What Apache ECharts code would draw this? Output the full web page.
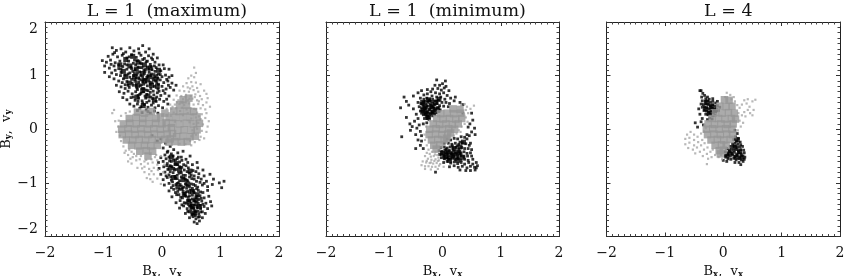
<!DOCTYPE html>
<html><head><meta charset="utf-8">
<style>html,body{margin:0;padding:0;background:#fff}#c{width:844px;height:276px}</style>
<script src="https://cdn.jsdelivr.net/npm/echarts@6/dist/echarts.min.js"></script>
</head><body><div id="c"></div>
<script>
const titles = ['L = 1  (maximum)', 'L = 1  (minimum)', 'L = 4'];
const tickValues = [-2, -1, 0, 1, 2];

const maxBlack = [
[-.85,1.52],[-.78,1.47],[-.7,1.5],[-.62,1.44],[-.55,1.52],[-.48,1.46],[-.4,1.5],[-.33,1.56],[-.28,1.44],[-.22,1.5],[-.15,1.4],
[-.92,1.36],[-.84,1.4],[-.76,1.35],[-.68,1.38],[-.6,1.33],[-.52,1.39],[-.44,1.34],[-.36,1.38],[-.3,1.32],[-.23,1.37],[-.16,1.3],[-.08,1.33],
[-1.02,1.28],[-.95,1.25],[-.88,1.29],[-.8,1.24],[-.72,1.27],[-.64,1.22],[-.57,1.27],[-.49,1.23],[-.42,1.28],[-.35,1.22],[-.27,1.26],[-.2,1.21],[-.12,1.25],[-.05,1.2],
[-.98,1.18],[-.9,1.14],[-.82,1.18],[-.74,1.13],[-.67,1.17],[-.6,1.12],[-.53,1.16],[-.46,1.11],[-.38,1.15],[-.31,1.1],[-.25,1.16],[-.17,1.11],[-.1,1.15],[-.02,1.09],[.04,1.13],
[-.86,1.05],[-.78,1.02],[-.7,1.06],[-.63,1.01],[-.55,1.05],[-.48,1],[-.42,1.05],[-.36,1],[-.3,1.04],[-.24,.99],[-.18,1.03],[-.12,.98],[-.06,1.03],[0,.98],[.06,1.01],[.12,.97],
[-.82,.94],[-.74,.9],[-.66,.94],[-.6,.89],[-.52,.93],[-.45,.89],[-.39,.94],[-.33,.89],[-.27,.93],[-.21,.88],[-.15,.92],[-.09,.87],[-.03,.92],[.03,.87],[.1,.9],[.17,.86],
[-.78,.82],[-.7,.79],[-.63,.83],[-.56,.78],[-.49,.82],[-.43,.77],[-.37,.81],[-.31,.76],[-.25,.81],[-.19,.76],[-.13,.8],[-.07,.75],[0,.8],[.07,.75],[.14,.78],[.2,.73],
[-.73,.7],[-.65,.67],[-.58,.71],[-.51,.66],[-.45,.7],[-.38,.65],[-.32,.7],[-.26,.65],[-.2,.69],[-.14,.64],[-.08,.68],[-.02,.63],[.05,.67],[.12,.62],
[-.67,.59],[-.6,.55],[-.53,.59],[-.46,.54],[-.4,.58],[-.34,.53],[-.28,.58],[-.22,.53],[-.16,.57],[-.1,.52],[-.04,.56],[.03,.52],[.08,.56],
[-.55,.47],[-.48,.43],[-.42,.47],[-.36,.42],[-.3,.46],[-.24,.41],[-.18,.45],[-.12,.4],[-.06,.44],[.01,.4],
[-.42,.35],[-.34,.31],[-.27,.36],[-.2,.3],[-.13,.34],[-.07,.3],[.1,.47],[.24,.82],[.17,1],[.12,1.12],[-.98,1.06],[-.9,.98],
[-.45,1.2],[-.38,1.07],[-.33,.97],[-.4,.88],[-.28,1.12],[-.22,1.06],[-.16,.96],[-.35,.83],[-.44,.95],[-.5,1.08],[-.2,.84],[-.27,.73],[-.42,.74],[-.55,.97],[-.6,1.2],[-.7,1.12],[-.12,1.08],[-.06,.84],
[-.81,1.43],[-.66,1.41],[-.47,1.29],[-.33,1.3],[-.13,1.18],[-.74,1.2],[-.58,1.03],[-.52,1.13],[-.41,1.16],[-.37,1.24],[-.25,1.27],[-.19,1.17],[-.09,1.01],[-.03,1.02],[-.29,1.08],[-.34,1.15],[-.43,1.01],[-.47,.92],[-.36,.92],[-.31,.84],[-.23,.91],[-.17,.87],[-.11,.9],[-.26,.97],[-.19,1],[-.4,.96],[-.51,.86],[-.58,.82],[-.68,.87],[-.44,.82],[-.34,.76],[-.24,.72],[-.15,.71],[-.05,.71],[-.36,.67],[-.29,.62],[-.19,.6],[-.09,.6],[-.41,.63],[-.49,.6],[-.33,.49],[-.26,.5],[-.15,.49],[-.41,.52],[-.38,.39],[-.24,.33],[-.63,.76],[-.71,1],[-.8,1.1],[-.87,1.21],[-.56,1.35],[-.39,1.42],[-.18,1.33],[.02,1.2],[.08,.93],[.11,.82],[.02,.72],[-.27,.88],[-.31,.93],[-.47,1.04],[-.23,1.12],[-.14,1.02],[-.07,.95],
[-.17,-.12],[-.08,-.22],[-.02,-.18],[.06,-.26],[.14,-.32],[.02,-.35],[.1,-.41],[.2,-.38],[.27,-.44],[.36,-.41],[.05,-.48],[-.02,-.53],[.12,-.52],[.19,-.5],[.26,-.55],[.33,-.52],[.41,-.56],[.48,-.5],
[-.06,-.62],[.02,-.6],[.09,-.64],[.16,-.6],[.23,-.65],[.3,-.61],[.37,-.66],[.44,-.62],[.52,-.66],[.6,-.62],[-.05,-.73],[.03,-.7],[.1,-.75],[.17,-.7],[.24,-.75],[.31,-.71],[.38,-.76],[.45,-.72],[.53,-.77],[.61,-.72],[.7,-.76],
[-.02,-.84],[.05,-.8],[.12,-.85],[.19,-.81],[.26,-.86],[.33,-.81],[.4,-.86],[.47,-.82],[.55,-.87],[.63,-.83],[.72,-.87],[.82,-.84],[.02,-.94],[.09,-.9],[.16,-.95],[.23,-.91],[.3,-.96],[.37,-.91],[.44,-.96],[.51,-.92],[.59,-.97],[.67,-.93],[.76,-.97],[.88,-.93],[.98,-1],[1.06,-.97],
[.04,-1.04],[.12,-1.01],[.19,-1.05],[.26,-1.01],[.33,-1.06],[.4,-1.02],[.47,-1.07],[.54,-1.03],[.61,-1.08],[.69,-1.04],[.78,-1.07],[.86,-1.03],[1.02,-1.09],
[.12,-1.15],[.2,-1.12],[.27,-1.16],[.34,-1.12],[.41,-1.17],[.48,-1.13],[.55,-1.18],[.62,-1.14],[.7,-1.18],[.78,-1.14],
[.17,-1.26],[.25,-1.22],[.32,-1.27],[.39,-1.23],[.45,-1.27],[.52,-1.23],[.58,-1.28],[.65,-1.24],[.72,-1.28],[.8,-1.25],[.85,-1.43],
[.24,-1.37],[.31,-1.33],[.38,-1.37],[.44,-1.33],[.5,-1.38],[.56,-1.34],[.62,-1.38],[.68,-1.34],[.75,-1.38],[.83,-1.35],
[.3,-1.47],[.37,-1.43],[.43,-1.48],[.49,-1.44],[.54,-1.48],[.6,-1.44],[.66,-1.48],[.72,-1.44],[.78,-1.48],
[.4,-1.57],[.46,-1.54],[.52,-1.58],[.57,-1.54],[.63,-1.58],[.69,-1.54],[.74,-1.57],[.47,-1.65],[.53,-1.63],[.58,-1.67],[.64,-1.63],[.69,-1.65],[.55,-1.73],[.6,-1.76],[.64,-1.71],
[.5,-1.42],[.55,-1.41],[.6,-1.47],[.47,-1.33],[.52,-1.3],[.58,-1.36],[.63,-1.31],[.45,-1.4],[.56,-1.52],[.49,-1.5],[.3,-.7],[.22,-.88],[.35,-1.1],[.42,-.95],[.28,-1],[.14,-.68],[.2,-.58],[.38,-1.2],[.44,-1.16],[.52,-1.1],
[.09,-.43],[.16,-.46],[.23,-.57],[.28,-.52],[.34,-.58],[.07,-.55],[.13,-.59],[.27,-.66],[.34,-.71],[.41,-.68],[.2,-.73],[.08,-.68],[.14,-.79],[.21,-.76],[.29,-.82],[.36,-.86],[.43,-.79],[.5,-.86],[.58,-.79],[.07,-.87],[.15,-.89],[.26,-.92],[.33,-.89],[.4,-.93],[.47,-.89],[.55,-.93],[.62,-.9],[.18,-.98],[.24,-1.03],[.31,-1.03],[.37,-1.08],[.43,-1.05],[.5,-1.02],[.57,-1.05],[.65,-.99],[.72,-1.01],[.16,-1.09],[.23,-1.18],[.3,-1.12],[.36,-1.16],[.42,-1.1],[.47,-1.18],[.53,-1.15],[.59,-1.11],[.66,-1.17],[.29,-1.22],[.35,-1.28],[.41,-1.25],[.47,-1.24],[.54,-1.33],[.6,-1.25],[.67,-1.29],[.34,-1.41],[.41,-1.38],[.47,-1.43],[.52,-1.46],[.58,-1.41],[.65,-1.42],[.7,-1.4],[.44,-1.53],[.5,-1.55],[.55,-1.58],[.61,-1.53],[.66,-1.54],[.51,-1.6],[.57,-1.61],[.62,-1.64]
];
const maxBlackMass = [
[-.62,1.3],[-.5,1.36],[-.41,1.25],[-.55,1.18],[-.66,1.08],[-.44,1.12],[-.3,1.2],[-.2,1.14],[-.34,1.04],[-.47,.98],[-.22,.98],[-.1,.94],[-.3,.9],[-.42,.82],[-.56,.86],[-.18,.82],[-.33,.72],[-.08,.8],[-.24,.62],[-.43,.6],[-.13,.55],[-.32,.44],[-.62,.98],[-.72,1.2],[-.06,1.1],
[.16,-.52],[.24,-.64],[.3,-.76],[.14,-.72],[.2,-.9],[.36,-.94],[.27,-1.08],[.44,-1.02],[.38,-1.22],[.52,-1.16],[.6,-1.22],[.46,-1.34],[.58,-1.32],[.52,-1.44],[.64,-1.44],[.56,-1.56],[.48,-.78]
];
const maxGrayCore = [
[-.42,.32],[-.3,.3],[-.18,.33],[-.56,.2],[-.44,.22],[-.33,.2],[-.22,.22],[-.1,.2],[-.02,.23],[-.66,.1],[-.55,.11],[-.44,.1],[-.33,.11],[-.22,.1],[-.11,.11],[0,.1],[.07,.12],[-.69,0],[-.58,.01],[-.47,0],[-.36,.01],[-.25,0],[-.14,.01],[-.03,0],[.08,.01],[.16,.03],
[-.68,-.1],[-.57,-.09],[-.46,-.1],[-.35,-.09],[-.24,-.1],[-.13,-.09],[-.02,-.1],[.09,-.09],[.18,-.08],[-.61,-.2],[-.5,-.2],[-.39,-.19],[-.28,-.2],[-.17,-.19],[-.06,-.2],[.05,-.19],[.14,-.18],[-.52,-.3],[-.41,-.31],[-.3,-.3],[-.19,-.31],[-.08,-.3],[-.38,-.41],[-.27,-.4],[-.16,-.41],[-.24,-.5],
[.3,.46],[.42,.45],[.36,.55],[.46,.58],[.05,.3],[.12,.22],[.2,.34],[.31,.33],[.43,.34],[.54,.33],[.24,.22],[.36,.23],[.48,.22],[.6,.23],[.18,.11],[.3,.1],[.42,.11],[.54,.1],[.64,.11],[.27,-.02],[.38,-.01],[.5,-.02],[.6,-.01],[.25,-.14],[.36,-.13],[.48,-.14],[.57,-.13],[.12,-.24],[.22,-.23],[.33,-.24],[.43,-.23]
];
const maxGraySpeck = [
[.55,1.15],[.58,1.05],[.5,1],[.45,.95],[.55,.97],[.42,.86],[.5,.88],[.58,.87],[.36,.8],[.44,.78],[.52,.8],[.6,.77],[.66,.84],[.3,.72],[.38,.71],[.46,.7],[.54,.73],[.62,.7],[.72,.72],[.25,.63],[.33,.62],[.41,.64],[.49,.62],[.57,.65],[.65,.62],[.76,.66],
[.2,.55],[.28,.54],[.36,.56],[.44,.54],[.52,.57],[.6,.54],[.68,.56],[.78,.58],[.14,.46],[.22,.46],[.3,.47],[.38,.45],[.46,.48],[.54,.46],[.62,.47],[.7,.45],[.76,.5],[.08,.38],[.16,.38],[.24,.39],[.34,.4],[.42,.37],[.5,.39],[.58,.37],[.66,.39],[.74,.37],[.82,.42],[.12,.3],[.2,.31],[.44,.3],[.52,.28],[.6,.31],[.68,.28],[.76,.3],[.5,.2],[.58,.22],[.66,.19],[.74,.21],[.8,.15],[.54,.1],[.62,.12],[.7,.09],[.78,.05],[.52,-.02],[.6,.01],[.68,-.03],[.76,-.05],[.5,-.13],[.58,-.1],[.66,-.14],[.72,-.17],[.48,-.22],[.56,-.24],[.64,-.2],[.3,-.27],[.4,-.28],[.5,-.3],
[-.8,.15],[-.75,.05],[-.78,-.05],[-.72,-.12],[-.74,.16],[-.7,.25],[-.62,.3],[-.55,.33],[-.82,.36],[-.85,.3],[-.7,-.22],[-.66,-.32],[-.62,-.4],[-.58,-.48],[-.52,-.42],[-.5,-.52],[-.44,-.5],[-.44,-.58],[-.38,-.56],[-.36,-.65],[-.3,-.6],[-.3,-.7],[-.24,-.64],[-.22,-.74],[-.16,-.62],[-.14,-.72],[-.3,-.8],[-.22,-.84],[-.14,-.84],[-.07,-.76],[-.08,-.92],[-.16,-.98],[-.2,-.93],[-.26,-.91],[-.08,-.58],[-.02,-.5],[-.1,-.48],[.04,-.66],[.02,-.8],[-.02,-1.02],[-.58,-.6],[-.42,-.72],[-.52,-.64],[-.12,-.52],
[.48,.76],[.4,.61],[.35,.5],[.47,.57],[.56,.6],[.63,.52],[.26,.5],[.18,.42],[.31,.34],[.24,.28],[.15,.25],[.36,.26],[.55,.38],[.63,.24],[.47,.13],[.33,.15],[.22,.14],[-.64,-.44],[-.56,-.38],[-.48,-.46],[-.36,-.5],[-.54,-.55],[-.27,-.57],[-.18,-.56],[-.34,-.73],[-.18,-.78],[-.08,-.66]
];

const minBlack = [
[-.1,.92],[.05,.9],[.0,.85],[-.05,.82],[-.13,.82],[.06,.8],[-.17,.75],[-.08,.76],[-.02,.73],[.03,.77],[.11,.72],[-.26,.74],[-.2,.7],[-.12,.68],[-.05,.66],[.02,.68],[.08,.63],[-.32,.64],[-.26,.66],[-.18,.62],[-.1,.6],[-.03,.6],[.04,.56],[.14,.58],[.22,.6],
[-.38,.58],[-.32,.56],[-.27,.58],[-.22,.55],[-.17,.56],[-.12,.53],[-.07,.54],[-.01,.5],[.06,.5],[.12,.48],[.2,.53],[.3,.5],[.35,.46],[-.42,.5],[-.37,.48],[-.33,.5],[-.29,.47],[-.25,.5],[-.21,.47],[-.17,.49],[-.13,.46],[-.09,.48],[-.05,.44],[.02,.43],[.1,.42],
[-.4,.42],[-.36,.4],[-.32,.43],[-.28,.4],[-.24,.43],[-.2,.4],[-.16,.42],[-.12,.38],[-.08,.4],[-.04,.36],[-.38,.34],[-.34,.33],[-.3,.36],[-.26,.33],[-.22,.36],[-.18,.33],[-.14,.35],[-.1,.31],[-.06,.33],[-.33,.27],[-.29,.28],[-.25,.25],[-.21,.28],[-.17,.25],[-.13,.27],[-.31,.2],[-.27,.2],[-.23,.18],[-.27,.12],[-.33,.1],
[-.66,.6],[-.62,.52],[-.58,.45],[-.5,.62],[-.5,.38],[-.45,.28],[-.42,.2],[-.48,.15],[-.4,.08],[-.52,.05],[-.44,.02],[-.38,-.04],[-.46,-.1],[-.36,-.12],[-.72,.4],[-.62,.22],[-.56,.1],[-.55,-.02],[-.7,-.14],[-.42,-.2],[-.38,-.3],[-.46,-.36],[-.33,-.36],[-.36,-.22],[-.42,.68],[-.36,.72],
[.5,.3],[.52,.17],[.47,.1],[.55,.02],[.5,-.05],[.44,.04],[.46,-.12],[.56,-.1],[.42,-.18],[.48,-.26],[.42,-.1],[.35,.3],
[.08,-.18],[.14,-.2],[.2,-.17],[.26,-.18],[.32,-.14],[.38,-.15],[.03,-.26],[.1,-.26],[.16,-.28],[.22,-.26],[.28,-.28],[.34,-.25],[.4,-.27],[.46,-.3],[-.03,-.34],[.03,-.33],[.08,-.35],[.13,-.33],[.18,-.36],[.23,-.34],[.28,-.37],[.33,-.34],[.38,-.36],[.44,-.36],[.5,-.38],
[-.06,-.4],[-.01,-.41],[.04,-.39],[.08,-.42],[.12,-.4],[.16,-.43],[.2,-.41],[.24,-.44],[.28,-.42],[.32,-.44],[.37,-.42],[.42,-.45],[.48,-.44],[-.05,-.47],[-.01,-.46],[.03,-.49],[.07,-.47],[.11,-.5],[.15,-.47],[.19,-.5],[.23,-.48],[.27,-.51],[.32,-.49],[.37,-.51],[.43,-.5],[.5,-.5],
[-.02,-.53],[.03,-.55],[.07,-.53],[.12,-.56],[.17,-.54],[.22,-.57],[.27,-.55],[.32,-.58],[.38,-.56],[.44,-.58],[.52,-.56],[.02,-.62],[.08,-.6],[.14,-.63],[.2,-.61],[.26,-.64],[.32,-.62],[.38,-.65],[.45,-.62],[.52,-.65],[.58,-.62],[.12,-.7],[.2,-.68],[.27,-.71],[.34,-.69],[.42,-.72],[.48,-.69],[.55,-.71],[.6,-.68],[.3,-.76],[.4,-.77],[.48,-.77],[.56,-.76],[.58,-.72],[-.12,-.8],
[-.34,.46],[-.31,.39],[-.27,.44],[-.23,.37],[-.19,.44],[-.15,.39],[-.35,.37],[-.28,.31],[-.24,.3],[-.2,.3],[-.16,.3],[-.3,.52],[-.24,.53],[-.19,.52],[-.28,.24],[-.24,.22],[.04,-.44],[.09,-.46],[.14,-.45],[.18,-.47],[.22,-.44],[.26,-.48],[.02,-.52],[.1,-.53],[.15,-.52],[.2,-.54],[.25,-.53],[.3,-.46],[.06,-.37],[.17,-.31],[.25,-.31],[.3,-.24]
];
const minBlackMass = [
[-.34,.5],[-.24,.55],[-.12,.5],[-.3,.4],[-.18,.42],[-.08,.38],[-.28,.3],[-.16,.32],[-.24,.22],[-.06,.56],[-.34,.32],
[.0,-.45],[.09,-.42],[.18,-.48],[.28,-.43],[.34,-.52],[.06,-.52],[.2,-.36],[.3,-.33],[.12,-.58],[.26,-.58],[.36,-.24]
];
const minGrayCore = [
[.18,.38],[.3,.37],[-.03,.29],[.08,.3],[.19,.29],[.31,.3],[-.1,.2],[.01,.19],[.12,.2],[.23,.19],[.33,.2],[-.16,.1],[-.05,.09],[.06,.1],[.17,.09],[.27,.1],[-.22,0],[-.11,.01],[0,0],[.11,.01],[.21,0],[-.23,-.1],[-.12,-.09],[-.01,-.1],[.09,-.09],[.14,-.07],[-.19,-.2],[-.08,-.19],[.03,-.2],[.07,-.17],[-.15,-.3],[-.05,-.29],[-.11,-.37]
];
const minGraySpeck = [
[.42,.42],[.48,.38],[.54,.44],[.38,.47],[.32,.45],[.44,.3],[.4,.22],[.43,.14],[.38,.1],[.33,.05],[.28,-.02],[.24,-.08],[.19,-.12],[.12,-.17],[.05,-.22],
[-.18,-.42],[-.12,-.42],[-.24,-.38],[-.22,-.46],[-.15,-.5],[-.09,-.48],[-.3,-.5],[-.25,-.55],[-.19,-.57],[-.12,-.56],[-.06,-.58],[-.34,-.6],[-.28,-.62],[-.22,-.63],[-.16,-.64],[-.1,-.63],[-.04,-.65],[-.36,-.67],[-.3,-.69],[-.24,-.69],[-.18,-.7],[-.12,-.7],[-.06,-.68],[.02,-.7],[-.3,-.74],[-.2,-.75],[-.08,-.74],[-.27,-.3],[-.3,-.2],[-.31,-.1],[-.28,.05],[-.22,.16],
[-.27,-.44],[-.2,-.51],[-.13,-.47],[-.07,-.53],[-.27,-.59],[-.2,-.62],[-.14,-.59],[-.08,-.59],[.4,.36],[.37,.28],[.31,-.05]
];

const l4Black = [
[-.38,.72],[-.35,.67],[-.32,.63],[-.27,.6],[-.37,.6],[-.3,.57],[-.24,.56],[-.18,.57],[-.36,.53],[-.31,.52],[-.27,.53],[-.22,.5],[-.18,.52],[-.13,.49],[-.1,.52],[-.38,.47],[-.34,.46],[-.3,.47],[-.26,.46],[-.22,.44],[-.18,.46],[-.14,.43],[-.1,.44],[-.06,.41],
[-.36,.41],[-.32,.41],[-.28,.4],[-.24,.38],[-.2,.4],[-.16,.37],[-.12,.38],[-.08,.35],[-.33,.35],[-.29,.34],[-.25,.32],[-.21,.34],[-.17,.31],[-.13,.32],[-.3,.28],[-.26,.27],[-.22,.28],[-.18,.25],[-.14,.26],[-.23,.21],[-.19,.19],[-.27,.18],[-.42,.38],[-.4,.28],[-.36,.2],[-.38,.14],[-.44,.04],[-.48,.12],[-.34,.08],[-.4,.72],
[.2,-.02],[.24,-.08],[.21,-.14],[.26,-.17],[.18,-.19],[.23,-.22],[.29,-.24],[.16,-.27],[.2,-.26],[.25,-.28],[.3,-.29],[.12,-.32],[.16,-.32],[.2,-.32],[.24,-.34],[.28,-.33],[.33,-.32],[.06,-.36],[.1,-.38],[.14,-.37],[.18,-.39],[.22,-.38],[.26,-.4],[.3,-.38],[.35,-.39],
[.03,-.42],[.07,-.44],[.11,-.42],[.15,-.45],[.19,-.43],[.23,-.46],[.27,-.44],[.31,-.46],[.36,-.44],[.04,-.5],[.08,-.48],[.12,-.5],[.16,-.48],[.2,-.51],[.24,-.49],[.28,-.52],[.32,-.5],[.37,-.52],[.08,-.55],[.13,-.56],[.18,-.54],[.22,-.57],[.27,-.55],[.31,-.57],[.36,-.56],[.0,-.58],[.06,-.6],[.2,-.62],[.27,-.62],[.3,-.66],[.34,-.6]
];
const l4BlackMass = [
[-.28,.5],[-.2,.42],[-.3,.38],[-.14,.36],[-.24,.3],[.24,-.2],[.2,-.33],[.28,-.42],[.12,-.44],[.22,-.52],[.32,-.52],[.06,-.5]
];
const l4GrayCore = [
[.02,.55],[.1,.54],[-.06,.43],[.05,.42],[.15,.43],[-.13,.31],[-.02,.3],[.09,.31],[.19,.3],[-.19,.2],[-.08,.2],[.03,.19],[.14,.2],[.21,.19],[-.26,.1],[-.15,.09],[-.04,.1],[.07,.09],[.17,.1],[-.29,0],[-.18,.01],[-.07,0],[.04,.01],[.15,0],[-.27,-.1],[-.16,-.09],[-.05,-.1],[.06,-.09],[.16,-.1],[-.21,-.2],[-.1,-.19],[.01,-.2],[.12,-.19],[-.14,-.3],[-.03,-.29],[.05,-.3],[-.07,-.4],[.0,-.39],[-.05,-.46]
];
const l4GraySpeck = [
[.06,.68],[.12,.64],[.03,.6],[.14,.56],[.2,.52],[.24,.45],[.28,.4],[.32,.46],[.36,.54],[.4,.48],[.45,.42],[.5,.52],[.55,.55],[.42,.36],[.36,.32],[.32,.26],[.38,.24],[.46,.3],[.52,.36],[.5,.26],[.28,.16],[.34,.12],[.3,.05],[.25,-.02],[.26,.3],[.42,.56],[.18,.6],
[-.62,-.1],[-.56,-.05],[-.5,-.1],[-.65,-.18],[-.58,-.16],[-.5,-.2],[-.44,-.14],[-.38,-.08],[-.65,-.28],[-.58,-.25],[-.5,-.3],[-.43,-.24],[-.36,-.2],[-.6,-.35],[-.52,-.38],[-.45,-.34],[-.38,-.3],[-.32,-.26],[-.48,-.45],[-.4,-.42],[-.33,-.38],[-.27,-.34],[-.35,-.5],[-.28,-.46],[-.22,-.42],[-.18,-.38],[-.26,-.55],[-.2,-.52],[-.14,-.48],[-.08,-.52],[-.04,-.48],[-.02,-.56],[-.3,.02],[-.33,-.04],[-.27,.15],[-.32,.08],[-.28,-.65]
];

const panels = [
  {left: 45, width: 234, black: maxBlack, mass: maxBlackMass, core: maxGrayCore, speck: maxGraySpeck},
  {left: 326, width: 233, black: minBlack, mass: minBlackMass, core: minGrayCore, speck: minGraySpeck},
  {left: 606.5, width: 233.5, black: l4Black, mass: l4BlackMass, core: l4GrayCore, speck: l4GraySpeck}
];
const font = 'DejaVu Serif';
const ink = '#111';
const nameRich = {
  b: {fontFamily: font, fontSize: 13, color: ink},
  s: {fontFamily: font, fontSize: 8.5, fontWeight: 'bold', color: ink, padding: [5, 0, 0, 0]}
};
const fmt = v => tickValues.includes(v) ? String(v).replace('-', '\u2212') : '';
function axisBase(position, showLabel) {
  return {
    type: 'value', min: -2, max: 2, interval: 1, position,
    axisLine: {show: true, onZero: false, lineStyle: {color: '#222', width: 1}},
    axisTick: {show: true, inside: true, length: 4, lineStyle: {color: '#333', width: 1}},
    minorTick: {show: true, splitNumber: 10, length: 2.5, lineStyle: {color: '#444', width: 1}},
    splitLine: {show: false}, minorSplitLine: {show: false},
    axisLabel: {show: showLabel, formatter: fmt, fontFamily: font, fontSize: 14, color: ink,
      margin: 7, showMinLabel: true, showMaxLabel: true, hideOverlap: false}
  };
}
const grid = [], xAxis = [], yAxis = [], series = [], title = [];
panels.forEach((p, i) => {
  grid.push({left: p.left, width: p.width, top: 22, height: 214.5, outerBoundsMode: 'none'});
  title.push({text: titles[i], left: p.left + p.width / 2, top: -3, textAlign: 'center',
    textStyle: {fontFamily: font, fontSize: 17.5, fontWeight: 'normal', color: ink}});
  const xb = axisBase('bottom', true);
  xb.axisLabel.margin = 10;
  xb.gridIndex = i; xb.name = '{b|B}{s|x}{b|,  v}{s|x}'; xb.nameLocation = 'middle'; xb.nameGap = 26;
  xb.nameTextStyle = {rich: nameRich};
  const xt = axisBase('top', false); xt.gridIndex = i;
  const yl = axisBase('left', i === 0); yl.gridIndex = i;
  yl.axisLabel.verticalAlignMaxLabel = 'top';
  yl.axisLabel.verticalAlignMinLabel = 'bottom';
  if (i === 0) {
    yl.name = '{b|B}{s|y}{b|,  v}{s|y}'; yl.nameLocation = 'middle'; yl.nameGap = 30;
    yl.nameTextStyle = {rich: nameRich};
  }
  const yr = axisBase('right', false); yr.gridIndex = i;
  const xi = xAxis.length, yi = yAxis.length;
  xAxis.push(xb, xt); yAxis.push(yl, yr);
  const base = {type: 'scatter', xAxisIndex: xi, yAxisIndex: yi, symbol: 'rect', silent: true, animation: false, large: false};
  series.push({...base, name: 'black' + i, data: p.black, symbolSize: 2.8, itemStyle: {color: '#000'}, z: 2});
  series.push({...base, name: 'mass' + i, data: p.mass, symbolSize: 5, itemStyle: {color: '#000'}, z: 2});
  series.push({...base, name: 'speck' + i, data: p.speck, symbolSize: 2.2, itemStyle: {color: '#a6a6a6'}, z: 3});
  series.push({...base, name: 'core' + i, data: p.core, symbolSize: 7.5, itemStyle: {color: '#969696'}, z: 4});
});
echarts.init(document.getElementById('c'), null, {renderer: 'canvas'}).setOption({
  animation: false, backgroundColor: '#fff', title, grid, xAxis, yAxis, series
});
</script></body></html>
